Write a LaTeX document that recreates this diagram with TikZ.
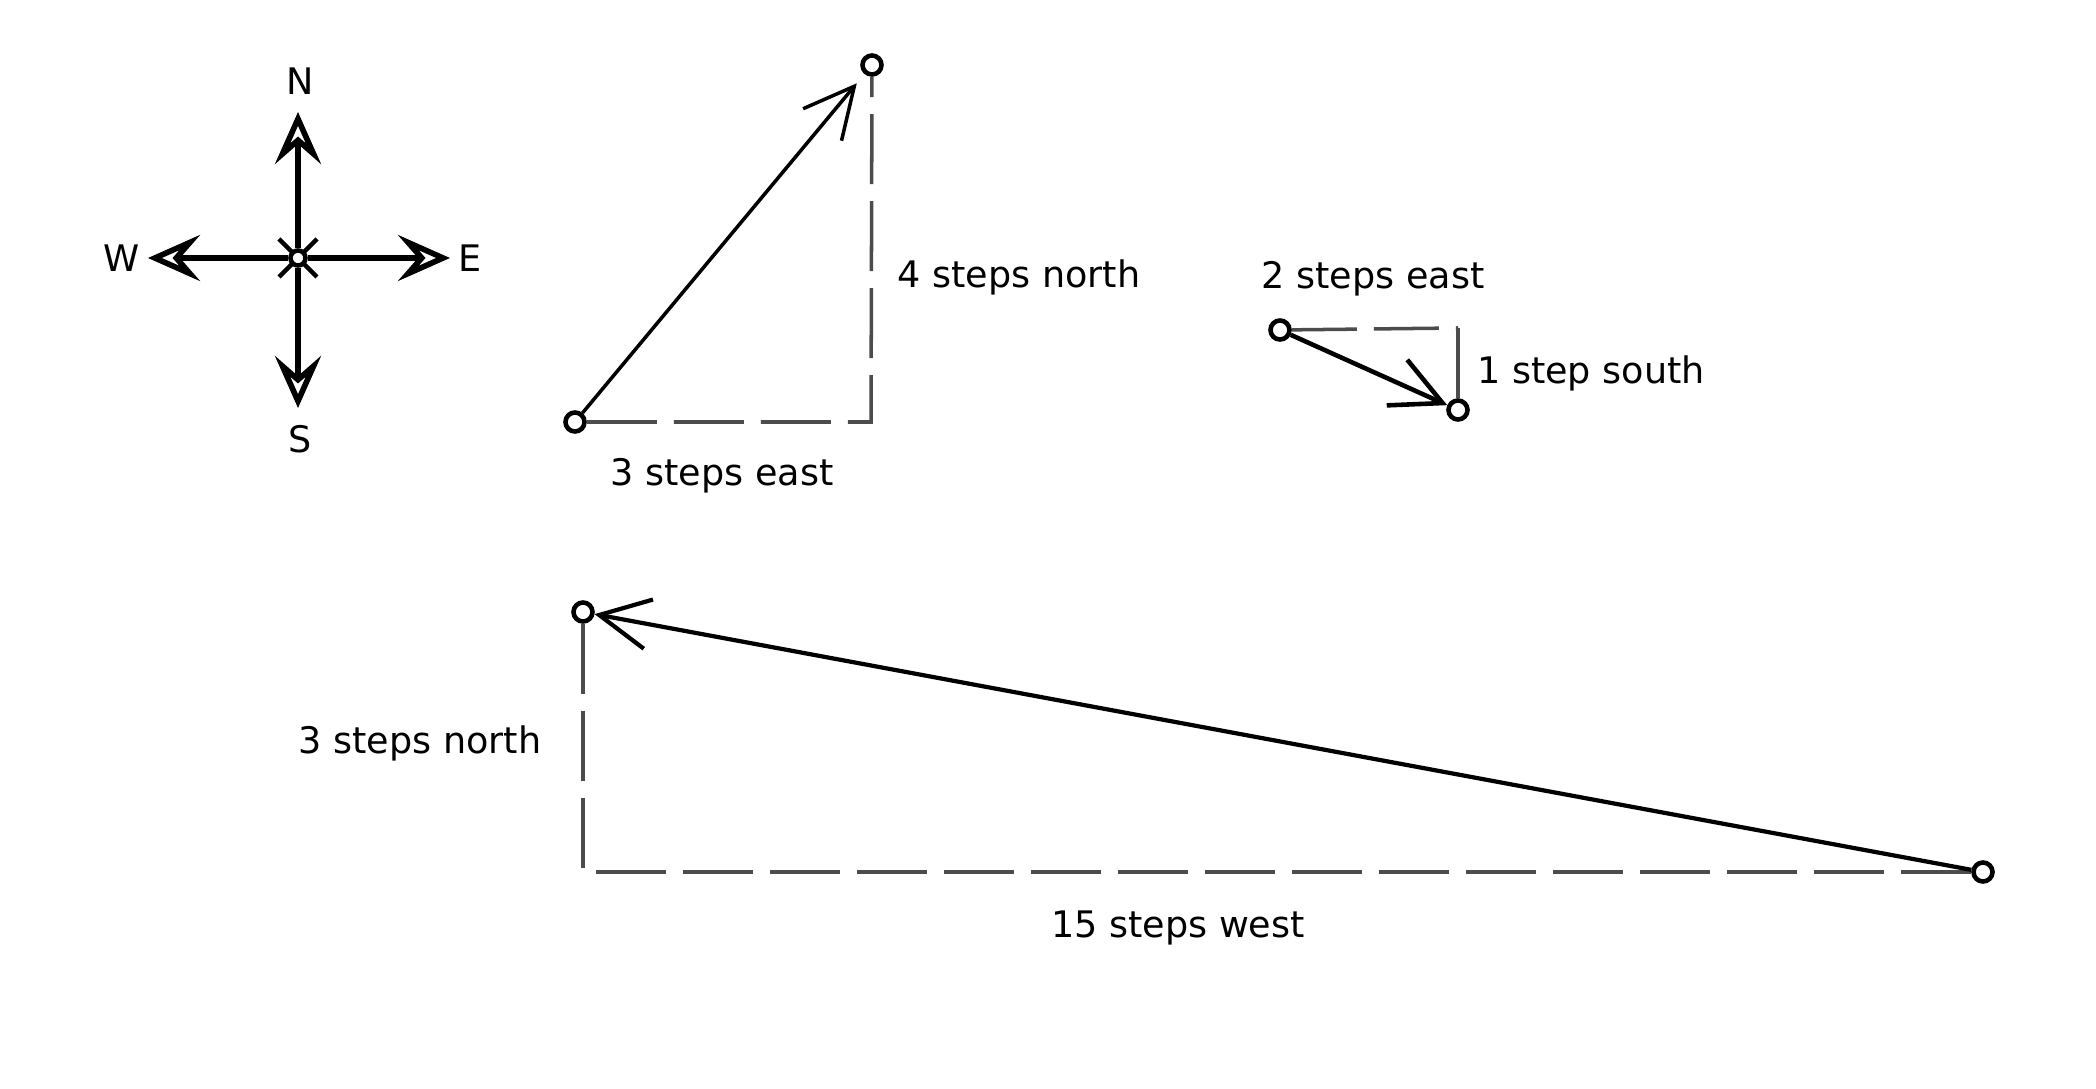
\documentclass[tikz,border=0pt]{standalone}
\usepackage{fontspec}
\setmainfont{DejaVu Sans}
\usetikzlibrary{arrows.meta, positioning, calc}

\begin{document}
\begin{tikzpicture}[
    font=\fontsize{10.4}{12}\selectfont,
    pt/.style={circle, draw, fill=white, line width=1.3pt, inner sep=0pt, minimum size=0.19cm},
    vec/.style={-{Straight Barb[length=0.5cm, width=0.5cm]}, line width=1.1pt},
    comp/.style={-{Stealth[open, length=0.52cm, width=0.46cm, inset=0.2cm]}, line width=1.6pt},
    guide/.style={draw=black!70, line width=1pt, dash pattern=on 0.7cm off 0.17cm},
    lbl/.style={inner sep=1pt},
]
\useasboundingbox (0,0) rectangle (20.96,10.88);

% ---- Compass ----
\coordinate (c) at (2.98, 8.30);
\draw[line width=1.3pt] ($(c)+(-0.19,-0.19)$) -- ($(c)+(0.19,0.19)$);
\draw[line width=1.3pt] ($(c)+(-0.19,0.19)$) -- ($(c)+(0.19,-0.19)$);
\node[pt, minimum size=0.15cm] (hub) at (c) {};
\coordinate (tipN) at (2.98, 9.76);
\coordinate (tipS) at (2.98, 6.80);
\coordinate (tipW) at (1.48, 8.30);
\coordinate (tipE) at (4.50, 8.30);
\draw[comp] (hub) -- (tipN);
\draw[comp] (hub) -- (tipS);
\draw[comp] (hub) -- (tipW);
\draw[comp] (hub) -- (tipE);
\node[lbl] (lblN) at (3.00, 10.07) {N};
\node[lbl] (lblS) at (3.00, 6.49) {S};
\node[lbl] (lblW) at (1.22, 8.30) {W};
\node[lbl] (lblE) at (4.70, 8.30) {E};

% ---- 3 east, 4 north ----
\node[pt] (a1) at (5.75, 6.66) {};
\node[pt] (a2) at (8.72, 10.23) {};
\coordinate (a3) at (8.71, 6.66);
\draw[guide] (a1) -- (a3) -- (a2);
\draw[vec, line width=1pt, shorten >=0.12cm] (a1) -- (a2);
\node[lbl] (aeast) at (7.22, 6.12) {3 steps east};
\node[lbl] (anorth) at (10.19, 8.11) {4 steps north};

% ---- 2 east, 1 south ----
\node[pt] (b1) at (12.80, 7.58) {};
\node[pt] (b2) at (14.58, 6.78) {};
\coordinate (b3) at (14.58, 7.60);
\draw[guide, dash pattern=on 0.65cm off 0.17cm] (b1) -- (b3);
\draw[draw=black!70, line width=1pt] (b3) -- (b2);
\draw[vec, line width=1.3pt] (b1) -- (b2);
\node[lbl] (beast) at (13.73, 8.09) {2 steps east};
\node[lbl] (bsouth) at (15.91, 7.15) {1 step south};

% ---- 15 west, 3 north ----
\node[pt] (c1) at (19.83, 2.16) {};
\node[pt] (c2) at (5.83, 4.76) {};
\coordinate (c3) at (5.83, 2.16);
\draw[guide] (c2) -- (c3) -- (c1);
\draw[vec, line width=1.2pt] (c1) -- (c2);
\node[lbl] (cwest) at (11.78, 1.60) {15 steps west};
\node[lbl] (cnorth) at (4.20, 3.45) {3 steps north};

\end{tikzpicture}
\end{document}
